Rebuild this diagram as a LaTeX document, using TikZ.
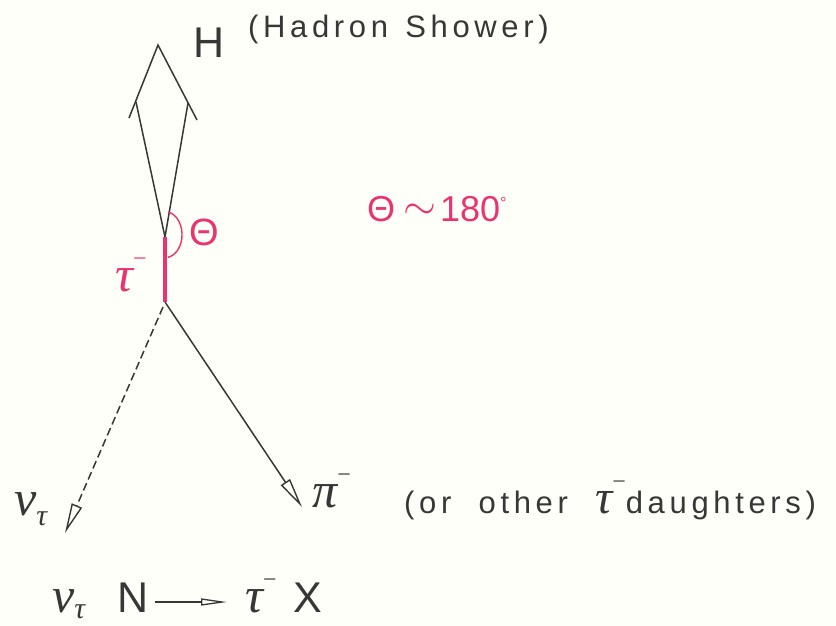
\documentclass[tikz,border=0pt]{standalone}
\usepackage{fontspec}
\setmainfont{Liberation Sans}
\newfontfamily\lettering[LetterSpace=15]{Liberation Sans}
\newfontfamily\grk{Liberation Serif}
\newcommand\supm{\raisebox{0.5em}{\fontsize{24}{24}\selectfont\upshape −}}
\usetikzlibrary{arrows.meta}
\definecolor{pinkred}{RGB}{234,52,112}
\definecolor{ink}{RGB}{55,55,55}
\definecolor{paper}{RGB}{255,255,250}
\begin{document}
\begin{tikzpicture}[x=1pt,y=-1pt,
  trk/.style={draw=ink, line width=1.5pt},
  headarrow/.style={-{Triangle[open, length=30pt, width=11pt, line width=1.4pt]}},
  lbl/.style={inner sep=0pt, anchor=base west, text=ink},
  rlbl/.style={inner sep=0pt, anchor=base west, text=pinkred},
  big/.style={font=\fontsize{43}{48}\selectfont},
  mid/.style={font=\lettering\fontsize{31}{34}\selectfont},
  greek/.style={font=\grk\itshape\fontsize{50}{56}\selectfont}]
\fill[paper] (0,0) rectangle (836,626);
\useasboundingbox (0,0) rectangle (836,626);
% vertices
\coordinate (top) at (165,237);
\coordinate (dec) at (165,302);
\coordinate (apex) at (158,45);
\coordinate (lb) at (129,118);
\coordinate (rb) at (197,120);
\coordinate (lend) at (136,102);
\coordinate (rend) at (188,103);
\coordinate (arcs) at (168,212);
\coordinate (nuend) at (65,533);
\coordinate (piend) at (302,507);
\coordinate (dstart) at (163,307);
% hadron shower
\draw[trk, line join=miter] (lb) -- (apex) -- (rb);
\draw[trk] (top) -- (lend);
\draw[trk] (top) -- (rend);
% tau track
\draw[pinkred, line width=4pt] (top) -- (dec);
\draw[pinkred, line width=1.4pt] (arcs) arc[start angle=-80, end angle=80, x radius=17, y radius=23];
% decay products
\draw[trk, dash pattern=on 8pt off 4pt, headarrow] (dstart) -- (nuend);
\draw[trk, headarrow] (dec) -- (piend);
% labels
\node[lbl, big] (H) at (193,58) {H};
\node[lbl, mid] (hs) at (248,38) {(Hadron\hspace{4pt} Shower)};
\node[rlbl, font=\fontsize{38}{40}\selectfont] (th) at (189,245) {Θ};
\node[rlbl, font=\fontsize{36}{40}\selectfont] (th2) at (367,221) {Θ\hspace{8pt}\raisebox{0.05em}{\scalebox{1.7}{$\sim$}}\hspace{4pt}180\raisebox{0.35em}{\fontsize{16}{16}\selectfont°}};
\node[rlbl, greek] (taulbl) at (115,291) {τ\supm};
\node[lbl, greek] (nu) at (14,515) {ν\raisebox{-0.2em}{\fontsize{30}{30}\selectfont τ}};
\node[lbl, greek] (pi) at (312,507) {π\supm};
\node[lbl, mid] (daught) at (404,513) {(or\hspace{14pt} other\hspace{14pt} {\grk\itshape\fontsize{48}{56}\selectfont τ\supm}daughters)};
% reaction
\node[lbl, greek] (nub) at (52,612) {ν\raisebox{-0.12em}{\fontsize{30}{30}\selectfont τ}};
\node[lbl, big] (N) at (117,612) {N};
\node[lbl, greek] (taub) at (245,612) {τ\supm};
\node[lbl, big] (X) at (293,612) {X};
\draw[draw=ink, line width=1.3pt, -{Triangle[open, length=26pt, width=7pt, line width=1.3pt]}] ([xshift=7pt]N.base east |- 0,602) -- ([xshift=-18pt]taub.base west |- 0,602);
\end{tikzpicture}
\end{document}
